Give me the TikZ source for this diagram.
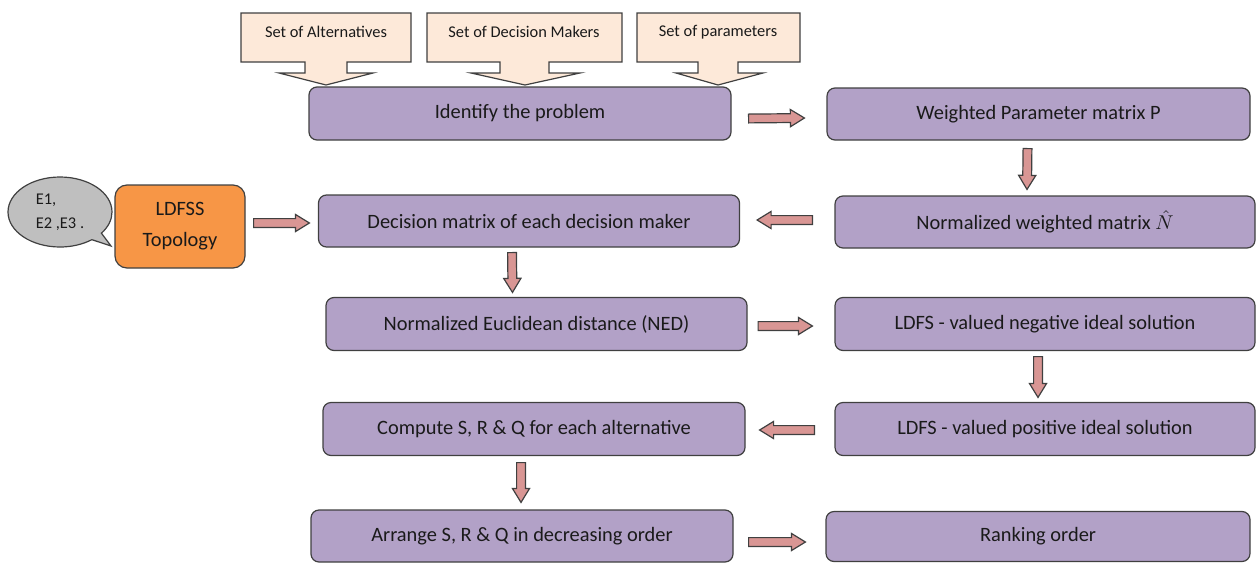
\documentclass[tikz,border=0pt]{standalone}
\usepackage{fontspec}
\setmainfont{Carlito}
\usetikzlibrary{calc,shapes.callouts}
\definecolor{boxfill}{HTML}{B2A1C7}
\definecolor{edgecol}{HTML}{404040}
\definecolor{peach}{HTML}{FDE9D9}
\definecolor{orangefill}{HTML}{F79646}
\definecolor{bubblefill}{HTML}{BFBFBF}
\definecolor{arrowfill}{HTML}{D99694}
\definecolor{txt}{HTML}{1A1A1A}
\newcommand\blockarrow[2]{%
  \path[barrow] let \p1=(#1), \p2=(#2), \n1={atan2(\y2-\y1,\x2-\x1)}, \n2={veclen(\x2-\x1,\y2-\y1)} in
    ($(\p1)+(\n1+90:2.2pt)$) --
    ($(\p1)+(\n1:{\n2*1pt-7pt})+(\n1+90:2.2pt)$) --
    ($(\p1)+(\n1:{\n2*1pt-7pt})+(\n1+90:4.3pt)$) --
    (\p2) --
    ($(\p1)+(\n1:{\n2*1pt-7pt})+(\n1-90:4.3pt)$) --
    ($(\p1)+(\n1:{\n2*1pt-7pt})+(\n1-90:2.2pt)$) --
    ($(\p1)+(\n1-90:2.2pt)$) -- cycle;}
\begin{document}
\begin{tikzpicture}[x=0.5pt,y=-0.5pt,
  stepbox/.style={draw=edgecol, line width=0.6pt, fill=boxfill, rounded corners=4pt, text=txt,
    font=\fontsize{10.2}{12}\selectfont, inner sep=0pt},
  inbox/.style={draw=edgecol, line width=0.6pt, fill=peach, line join=miter},
  intext/.style={text=txt, font=\fontsize{8.2}{10}\selectfont, inner sep=0pt},
  barrow/.style={draw=edgecol, line width=0.6pt, fill=arrowfill, line join=miter}]
\useasboundingbox (0,0) rectangle (1256,562);

% input callouts
\draw[inbox] (241,13) -- (411,13) -- (411,62) -- (347,62) -- (347,73) -- (373,73) -- (326,85)
  -- (279,73) -- (305,73) -- (305,62) -- (241,62) -- cycle;
\draw[inbox] (427,13) -- (622,13) -- (622,62) -- (549,62) -- (549,73) -- (580,73) -- (525,85)
  -- (471,73) -- (500,73) -- (500,62) -- (427,62) -- cycle;
\draw[inbox] (637,13) -- (800,13) -- (800,62) -- (738,62) -- (738,73) -- (763,73) -- (718,85)
  -- (676,73) -- (698,73) -- (698,62) -- (637,62) -- cycle;
\node[intext] (alt) at (326,32) {Set of Alternatives};
\node[intext] (dmk) at (524,32) {Set of Decision Makers};
\node[intext] (par) at (718,32) {Set of parameters};

% process boxes
\node[stepbox, minimum width=211pt, minimum height=26.5pt] (prob) at (520,113.5) {Identify the problem};
\node[stepbox, minimum width=211.5pt, minimum height=26pt] (wpm) at (1038.5,114) {Weighted Parameter matrix P};
\node[stepbox, minimum width=210.5pt, minimum height=26pt] (dm) at (529,221) {Decision matrix of each decision maker};
\node[stepbox, minimum width=210pt, minimum height=26pt] (nwm) at (1045,222) {Normalized weighted matrix $\hat{N}$};
\node[stepbox, minimum width=210.5pt, minimum height=26.5pt] (ned) at (536.5,324) {Normalized Euclidean distance (NED)};
\node[stepbox, minimum width=210pt, minimum height=26.5pt] (neg) at (1045,324) {LDFS - valued negative ideal solution};
\node[stepbox, minimum width=211pt, minimum height=26.5pt] (comp) at (534,429) {Compute S, R \& Q for each alternative};
\node[stepbox, minimum width=210pt, minimum height=26.5pt] (pos) at (1045,429) {LDFS - valued positive ideal solution};
\node[stepbox, minimum width=211pt, minimum height=26pt] (arr) at (522,536) {Arrange S, R \& Q in decreasing order};
\node[stepbox, minimum width=212pt, minimum height=25pt] (rank) at (1038,536.5) {Ranking order};

% LDFSS topology and bubble
\node[stepbox, fill=orangefill, rounded corners=6pt, minimum width=65pt, minimum height=41.5pt,
  align=center, font=\fontsize{10.2}{15.5}\selectfont] (ldfss) at (180,226.5) {LDFSS\\Topology};
\node[ellipse callout, draw=edgecol, line width=0.6pt, fill=bubblefill, minimum width=52pt, minimum height=35pt,
  inner sep=0pt, callout absolute pointer={(111,246)}, align=left, text=txt,
  font=\fontsize{8.2}{12}\selectfont] (bub) at (60,212) {E1,\\E2 ,E3 .};

% block arrows
\blockarrow{$(prob.east)+(17,5)$}{$(wpm.west)+(-22,4)$}
\blockarrow{$(wpm.south)+(-11,8)$}{$(nwm.north)+(-18,-6)$}
\blockarrow{$(nwm.west)+(-22,-2)$}{$(dm.east)+(17,-1)$}
\blockarrow{$(ldfss.east)+(8,-3.5)$}{$(dm.west)+(-8.5,2)$}
\blockarrow{$(dm.south)+(-17,5)$}{$(ned.north)+(-24,-4.5)$}
\blockarrow{$(ned.east)+(10.5,2)$}{$(neg.west)+(-22,2)$}
\blockarrow{$(neg.south)+(-7,5.5)$}{$(pos.north)+(-7,-4.5)$}
\blockarrow{$(pos.west)+(-20,1)$}{$(comp.east)+(14,1)$}
\blockarrow{$(comp.south)+(-13,6.5)$}{$(arr.north)+(-1,-7)$}
\blockarrow{$(arr.east)+(15,6)$}{$(rank.west)+(-20,5.5)$}
\end{tikzpicture}
\end{document}
